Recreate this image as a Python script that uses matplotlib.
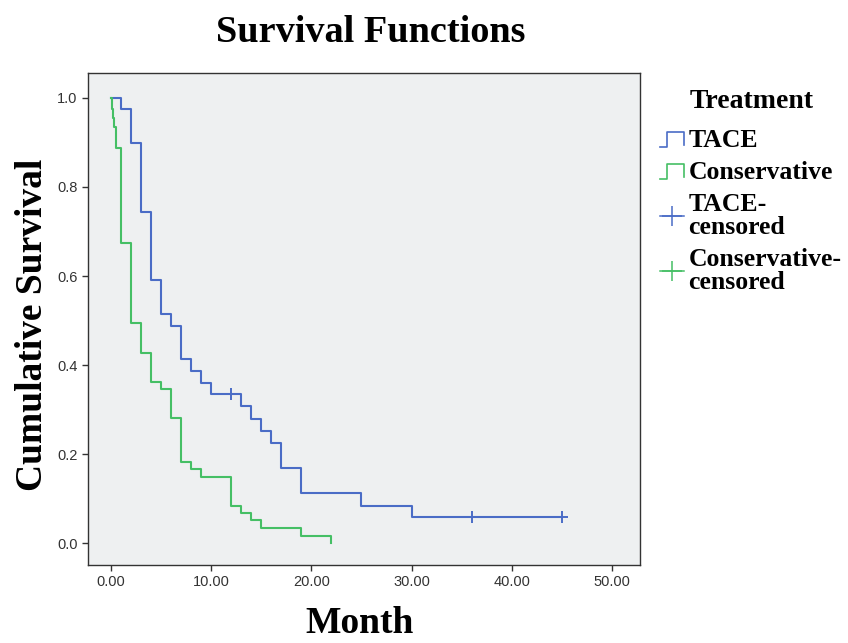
"""Kaplan-Meier survival curves, TACE vs conservative treatment (SPSS-style)."""

import matplotlib

matplotlib.use("Agg")
import matplotlib.pyplot as plt
from matplotlib.legend_handler import HandlerBase
from matplotlib.lines import Line2D
from matplotlib.ticker import FormatStrFormatter

# step data (months, cumulative survival)
tace_t = [0, 1, 2, 3, 4, 5, 6, 7, 8, 9, 10, 13, 14, 15, 16, 17, 19, 25, 30, 45]
tace_s = [1.0, 0.975, 0.899, 0.744, 0.591, 0.515, 0.488, 0.413, 0.387, 0.360,
          0.335, 0.308, 0.279, 0.252, 0.225, 0.169, 0.112, 0.083, 0.058, 0.058]
tace_cens_t = [12, 36, 45]
tace_cens_s = [0.335, 0.058, 0.058]

cons_t = [0, 0.1, 0.2, 0.3, 0.5, 1, 2, 3, 4, 5, 6, 7, 8, 9, 12, 13, 14, 15, 19, 22]
cons_s = [1.0, 0.975, 0.955, 0.935, 0.888, 0.674, 0.494, 0.427, 0.362, 0.346,
          0.281, 0.182, 0.166, 0.148, 0.083, 0.067, 0.052, 0.034, 0.016, 0.0]

legend_labels = ["TACE", "Conservative", "TACE-\ncensored", "Conservative-\ncensored"]
x_ticks = [0, 10, 20, 30, 40, 50]
y_ticks = [0.0, 0.2, 0.4, 0.6, 0.8, 1.0]

BLUE = "#4a6cc6"
GREEN = "#45bf65"
SERIF = ["Liberation Serif", "DejaVu Serif"]
SANS = ["Liberation Sans", "DejaVu Sans"]


class StepHandler(HandlerBase):
    """Small step glyph like the SPSS legend."""

    def create_artists(self, legend, orig_handle, xdescent, ydescent, width, height, fontsize, trans):
        x0, y0 = -xdescent, -ydescent
        h = height * 0.85
        xs = [x0, x0 + 0.28 * width, x0 + 0.28 * width, x0 + width, x0 + width]
        ys = [y0, y0, y0 + h, y0 + h, y0 + 0.15 * h]
        line = Line2D(xs, ys, color=orig_handle.get_color(), lw=1.2, transform=trans)
        return [line]


fig = plt.figure(figsize=(8.48, 6.43), dpi=100)
ax = fig.add_axes([88 / 848, 1 - 565 / 643, (640 - 88) / 848, (565 - 73) / 643])
ax.set_facecolor("#eef0f1")

l_tace, = ax.step(tace_t, tace_s, where="post", color=BLUE, lw=1.5)
l_cons, = ax.step(cons_t, cons_s, where="post", color=GREEN, lw=1.5)
c_tace, = ax.plot(tace_cens_t, tace_cens_s, ls="none", marker="+", ms=9, mew=1.4, color=BLUE)
c_cons = Line2D([], [], ls="-", lw=1.1, marker="+", ms=14, mew=1.1, color=GREEN)
c_tace_leg = Line2D([], [], ls="-", lw=1.1, marker="+", ms=14, mew=1.1, color=BLUE)

ax.set_xlim(-2.3, 52.8)
ax.set_ylim(-0.049, 1.056)
ax.set_xticks(x_ticks)
ax.set_yticks(y_ticks)
ax.xaxis.set_major_formatter(FormatStrFormatter("%.2f"))
ax.yaxis.set_major_formatter(FormatStrFormatter("%.1f"))
ax.tick_params(direction="out", length=4, width=1, color="#333333", labelcolor="#333333",
               labelsize=10.5, pad=3.5)
for lab in ax.get_xticklabels() + ax.get_yticklabels():
    lab.set_family(SANS)
for sp in ax.spines.values():
    sp.set_color("#333333")
    sp.set_linewidth(1.0)

fig.text(371 / 848, 1 - 42 / 643, "Survival Functions", family=SERIF, weight="bold",
         fontsize=27.5, ha="center", va="baseline")
fig.text(360 / 848, 1 - 633 / 643, "Month", family=SERIF, weight="bold",
         fontsize=27, ha="center", va="baseline")
fig.text(33 / 848, 1 - 325 / 643, "Cumulative Survival", family=SERIF, weight="bold",
         fontsize=27, rotation=90, ha="center", va="center")
fig.text(690 / 848, 1 - 108 / 643, "Treatment", family=SERIF, weight="bold",
         fontsize=20, ha="left", va="baseline")

leg = fig.legend(
    [l_tace, l_cons, c_tace_leg, c_cons],
    legend_labels,
    handler_map={l_tace: StepHandler(), l_cons: StepHandler()},
    loc="upper left",
    bbox_to_anchor=(660 / 848, 1 - 129 / 643),
    frameon=False,
    borderpad=0,
    borderaxespad=0,
    handlelength=0.95,
    handletextpad=0.15,
    labelspacing=0.35,
    prop={"family": SERIF, "weight": "bold", "size": 18.5},
)
for t in leg.get_texts():
    t.set_linespacing(1.0)

fig.savefig("out.png", dpi=100)
